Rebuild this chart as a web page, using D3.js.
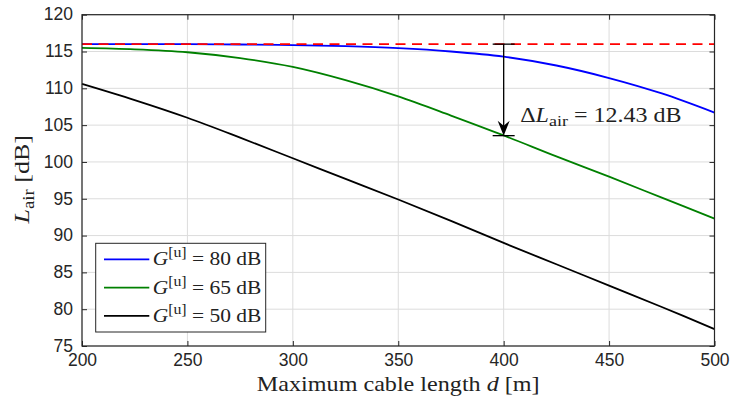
<!DOCTYPE html>
<html>
<head>
<meta charset="utf-8">
<script src="https://cdn.jsdelivr.net/npm/d3@7"></script>
<style>
  html, body { margin: 0; padding: 0; background: #fff; }
  svg { display: block; }
  .tick text { font-family: "Liberation Sans", Arial, sans-serif; font-size: 17.5px; fill: #262626; }
</style>
</head>
<body>
<svg id="chart" width="731" height="403"></svg>
<script>
// ---- data ----
const cableLength = [200, 225, 250, 275, 300, 325, 350, 375, 400, 425, 450, 475, 500];
const gain80 = [116.0, 116.0, 116.0, 115.95, 115.88, 115.72, 115.45, 115.0, 114.3, 113.1, 111.4, 109.3, 106.7];
const gain65 = [115.5, 115.3, 114.9, 114.1, 112.9, 111.1, 108.9, 106.3, 103.6, 100.75, 98.0, 95.15, 92.3];
const gain50 = [110.6, 108.4, 106.0, 103.3, 100.5, 97.7, 94.9, 92.0, 89.0, 86.1, 83.2, 80.3, 77.3];
const seriesNames = ["80", "65", "50"];
const seriesColors = ["#0000ff", "#008000", "#000000"];
const referenceLevel = 116;
const xTicks = [200, 250, 300, 350, 400, 450, 500];
const yTicks = [75, 80, 85, 90, 95, 100, 105, 110, 115, 120];
const deltaAt = 400;
const deltaValue = 12.43;

// ---- layout ----
const svg = d3.select("#chart");
const L = 82, R = 714.5, T = 14.7, B = 346;
const x = d3.scaleLinear().domain([200, 500]).range([L, R]);
const y = d3.scaleLinear().domain([75, 120]).range([B, T]);
const axisColor = "#262626";
const serif = "'Liberation Serif', 'Times New Roman', serif";

// grid
const grid = svg.append("g");
grid.selectAll("line.gx").data(xTicks).join("line")
  .attr("x1", d => x(d)).attr("x2", d => x(d)).attr("y1", T).attr("y2", B)
  .attr("stroke", "#dcdcdc").attr("stroke-width", 1);
grid.selectAll("line.gy").data(yTicks).join("line")
  .attr("x1", L).attr("x2", R).attr("y1", d => y(d)).attr("y2", d => y(d))
  .attr("stroke", "#dcdcdc").attr("stroke-width", 1);

// lines
const series = [gain80, gain65, gain50];
const line = d3.line().x((d, i) => x(cableLength[i])).y(d => y(d)).curve(d3.curveCatmullRom.alpha(0.5));
const plot = svg.append("g");
series.slice().reverse().forEach((s, j) => {
  const k = series.length - 1 - j;
  plot.append("path").datum(s).attr("d", line)
    .attr("fill", "none").attr("stroke", seriesColors[k]).attr("stroke-width", 1.8);
});
// reference dashed
plot.append("line")
  .attr("x1", x(200)).attr("x2", x(500)).attr("y1", y(referenceLevel)).attr("y2", y(referenceLevel))
  .attr("stroke", "#ff0000").attr("stroke-width", 1.8).attr("stroke-dasharray", "10,6.5");

// axes
const tl = 5;
const axB = svg.append("g").attr("transform", `translate(0,${B})`)
  .call(d3.axisBottom(x).tickValues(xTicks).tickSize(-tl).tickPadding(8).tickFormat(d3.format("d")));
const axL = svg.append("g").attr("transform", `translate(${L},0)`)
  .call(d3.axisLeft(y).tickValues(yTicks).tickSize(-tl).tickPadding(9).tickFormat(d3.format("d")));
const axT = svg.append("g").attr("transform", `translate(0,${T})`)
  .call(d3.axisTop(x).tickValues(xTicks).tickSize(-tl).tickFormat(""));
const axR = svg.append("g").attr("transform", `translate(${R},0)`)
  .call(d3.axisRight(y).tickValues(yTicks).tickSize(-tl).tickFormat(""));
[axB, axL, axT, axR].forEach(a => {
  a.select(".domain").remove();
  a.selectAll(".tick line").attr("stroke", axisColor).attr("stroke-width", 1);
});
axB.selectAll(".tick text").attr("dy", "0.71em");
axL.selectAll(".tick text").attr("dy", "0.3em");
svg.append("rect").attr("x", L).attr("y", T).attr("width", R - L).attr("height", B - T)
  .attr("fill", "none").attr("stroke", axisColor).attr("stroke-width", 1.2);

// helper: serif text stretched horizontally to mimic Computer Modern widths
function stretchedText(parent, tx, ty, sx, rot, size, anchor) {
  const g = parent.append("g").attr("transform", `translate(${tx},${ty}) rotate(${rot}) scale(${sx},1)`);
  return g.append("text").attr("x", 0).attr("y", 0).attr("text-anchor", anchor)
    .attr("font-family", serif).attr("font-size", size).attr("fill", "#222");
}

// axis labels
stretchedText(svg, (L + R) / 2, 391, 1.15, 0, 21, "middle")
  .call(t => {
    t.append("tspan").text("Maximum cable length ");
    t.append("tspan").attr("font-style", "italic").text("d");
    t.append("tspan").text(" [m]");
  });
stretchedText(svg, 29, (T + B) / 2 - 1, 1.18, -90, 22, "middle")
  .call(t => {
    t.append("tspan").attr("font-style", "italic").text("L");
    t.append("tspan").attr("font-size", 16).attr("dy", 5).text("air");
    t.append("tspan").attr("dy", -5).text(" [dB]");
  });

// annotation
const ax = x(deltaAt), yTop = y(referenceLevel), yBot = y(referenceLevel - deltaValue);
const ann = svg.append("g").attr("stroke", "#000").attr("stroke-width", 1.3);
ann.append("line").attr("x1", ax).attr("x2", ax).attr("y1", yTop).attr("y2", yBot - 4);
ann.append("line").attr("x1", ax - 11).attr("x2", ax + 11).attr("y1", yTop).attr("y2", yTop);
ann.append("line").attr("x1", ax - 11).attr("x2", ax + 11).attr("y1", yBot).attr("y2", yBot);
svg.append("path")
  .attr("d", `M${ax},${yBot} L${ax - 6},${yBot - 15} L${ax},${yBot - 10} L${ax + 6},${yBot - 15} Z`)
  .attr("fill", "#000");
stretchedText(svg, ax + 16.5, yBot - 14, 1.2, 0, 20, "start")
  .call(t => {
    t.append("tspan").text("Δ");
    t.append("tspan").attr("font-style", "italic").text("L");
    t.append("tspan").attr("font-size", 15).attr("dy", 4).text("air");
    t.append("tspan").attr("dy", -4).text(" = " + deltaValue.toFixed(2) + " dB");
  });

// legend
const lg = svg.append("g");
const lgX = 95.7, lgY = 243.3, lgW = 170, lgH = 88.7;
lg.append("rect").attr("x", lgX).attr("y", lgY).attr("width", lgW).attr("height", lgH)
  .attr("fill", "#fff").attr("stroke", axisColor).attr("stroke-width", 1);
seriesNames.forEach((nm, i) => {
  const ry = lgY + 16 + i * 28.3;
  lg.append("line").attr("x1", lgX + 8.3).attr("x2", lgX + 53.6).attr("y1", ry).attr("y2", ry)
    .attr("stroke", seriesColors[i]).attr("stroke-width", 1.8);
  stretchedText(lg, lgX + 57, ry + 6, 1.13, 0, 19, "start")
    .call(t => {
      t.append("tspan").attr("font-style", "italic").text("G");
      t.append("tspan").attr("font-size", 14).attr("dy", -8).text("[u]");
      t.append("tspan").attr("dy", 8).text(" = " + nm + " dB");
    });
});
</script>
</body>
</html>
